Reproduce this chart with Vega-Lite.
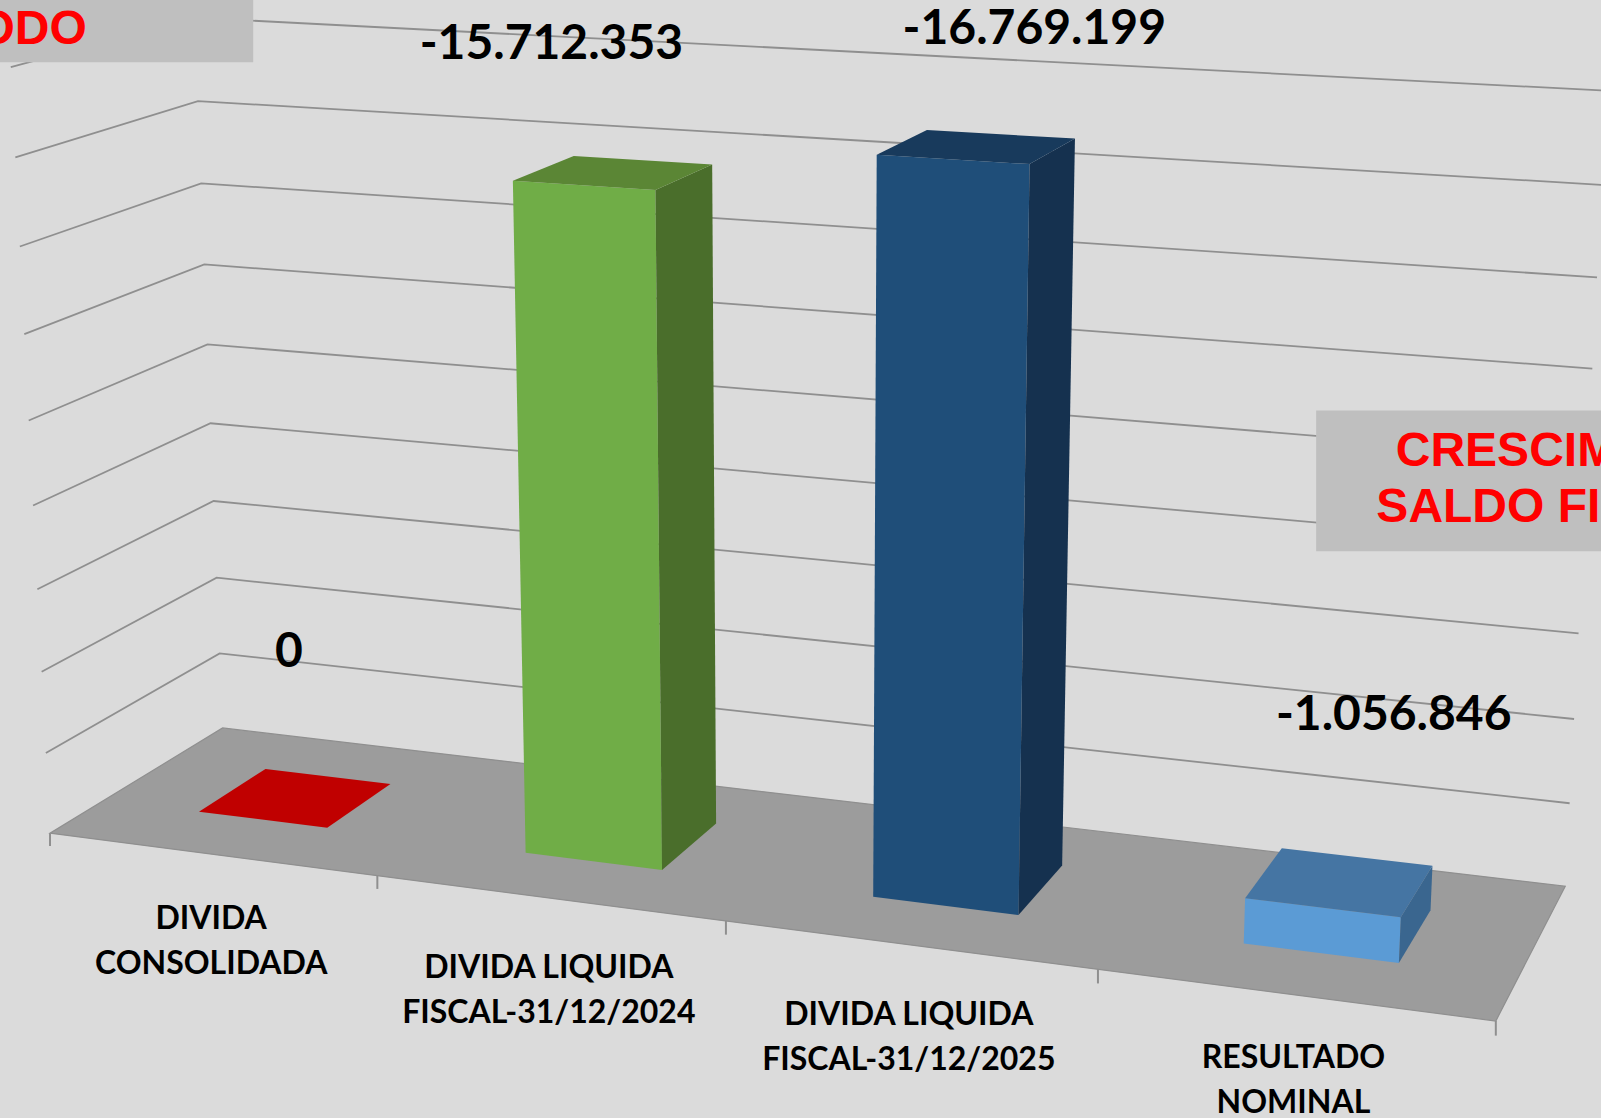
{
"$schema":"https://vega.github.io/schema/vega-lite/v6.json",
"width":1601,"height":1118,"padding":0,"autosize":{"type":"none"},
"background":"#dbdbdb",
"view":{"stroke":null},
"config":{"view":{"stroke":null}},
"datasets":{
"barras":[
{"ordem":0,"categoria":"DIVIDA\nCONSOLIDADA","valor":0},
{"ordem":1,"categoria":"DIVIDA LIQUIDA\nFISCAL-31/12/2024","valor":-15712353},
{"ordem":2,"categoria":"DIVIDA LIQUIDA\nFISCAL-31/12/2025","valor":-16769199},
{"ordem":3,"categoria":"RESULTADO\nNOMINAL","valor":-1056846}
],
"grade":[{"valor":-2000000},{"valor":-4000000},{"valor":-6000000},{"valor":-8000000},{"valor":-10000000},{"valor":-12000000},{"valor":-14000000},{"valor":-16000000},{"valor":-18000000}]
},
"encoding":{
"x":{"field":"px","type":"quantitative","axis":null,"scale":{"domain":[0,1568],"nice":false,"zero":false}},
"y":{"field":"py","type":"quantitative","axis":null,"scale":{"domain":[1095,0],"nice":false,"zero":false}}
},
"layer":[
{"data":{"name":"grade"},
"transform":[
{"calculate":"[{s:0,t:0,k:0},{s:0,t:1,k:1},{s:1,t:1,k:2}]","as":"c"},{"flatten":["c"]},
{"calculate":"-datum.valor/2000000","as":"v"},
{"calculate":"1-0.12209*datum.c.s+0.08312*datum.c.t","as":"w"},
{"calculate":"(1237.13*datum.c.s+187.12*datum.c.t+49-4.33*datum.v)/(datum.w-0.0055*datum.v)","as":"px"},
{"calculate":"(61.91*datum.c.s-43.74*datum.c.t+816-83.85*datum.v)/(datum.w-0.00732*datum.v)","as":"py"},
{"calculate":"datum.c.k","as":"k"}
],
"mark":{"type":"line","stroke":"#8f8f8f","strokeWidth":1.8,"clip":true},
"encoding":{"detail":{"field":"valor"},"order":{"field":"k","type":"quantitative"}}},
{"data":{"values":[{"parte":"piso"}]},
"transform":[
{"calculate":"[{s:0,t:0,k:0},{s:1,t:0,k:1},{s:1,t:1,k:2},{s:0,t:1,k:3}]","as":"c"},{"flatten":["c"]},
{"calculate":"1-0.12209*datum.c.s+0.08312*datum.c.t","as":"w"},
{"calculate":"(1237.13*datum.c.s+187.12*datum.c.t+49)/datum.w","as":"px"},
{"calculate":"(61.91*datum.c.s-43.74*datum.c.t+816)/datum.w","as":"py"},
{"calculate":"datum.c.k","as":"k"}
],
"mark":{"type":"line","interpolate":"linear-closed","fill":"#9c9c9c","stroke":"#8f8f8f","strokeWidth":1.2},
"encoding":{"order":{"field":"k","type":"quantitative"}}},
{"data":{"values":[{"d":0},{"d":0.25},{"d":0.5},{"d":0.75},{"d":1}]},
"transform":[
{"calculate":"[{v:0,k:0},{v:-0.15,k:1}]","as":"c"},{"flatten":["c"]},
{"calculate":"1-0.12209*datum.d","as":"w"},
{"calculate":"(1237.13*datum.d+49)/datum.w","as":"px"},
{"calculate":"(61.91*datum.d+816-83.85*datum.c.v)/datum.w","as":"py"},
{"calculate":"datum.c.k","as":"k"}
],
"mark":{"type":"line","stroke":"#8f8f8f","strokeWidth":2},
"encoding":{"detail":{"field":"d"},"order":{"field":"k","type":"quantitative"}}},
{"data":{"name":"barras"},
"transform":[
{"calculate":"[{f:'frente',k:0,ds:-1,t:0.3,up:0},{f:'frente',k:1,ds:1,t:0.3,up:0},{f:'frente',k:2,ds:1,t:0.3,up:1},{f:'frente',k:3,ds:-1,t:0.3,up:1},{f:'lado',k:0,ds:1,t:0.3,up:0},{f:'lado',k:1,ds:1,t:0.7,up:0},{f:'lado',k:2,ds:1,t:0.7,up:1},{f:'lado',k:3,ds:1,t:0.3,up:1},{f:'topo',k:0,ds:-1,t:0.3,up:1},{f:'topo',k:1,ds:1,t:0.3,up:1},{f:'topo',k:2,ds:1,t:0.7,up:1},{f:'topo',k:3,ds:-1,t:0.7,up:1}]","as":"c"},
{"flatten":["c"]},
{"calculate":"(datum.ordem+0.5)/4+datum.c.ds*0.05","as":"s"},
{"calculate":"datum.c.t","as":"t"},
{"calculate":"-datum.valor/2000000*datum.c.up","as":"v"},
{"calculate":"1-0.12209*datum.s+0.08312*datum.t","as":"w"},
{"calculate":"(1237.13*datum.s+187.12*datum.t+49-4.33*datum.v)/(datum.w-0.0055*datum.v)","as":"px"},
{"calculate":"(61.91*datum.s-43.74*datum.t+816-83.85*datum.v)/(datum.w-0.00732*datum.v)","as":"py"},
{"calculate":"datum.c.k","as":"k"},
{"calculate":"datum.ordem+'-'+datum.c.f","as":"face"}
],
"mark":{"type":"line","interpolate":"linear-closed","strokeWidth":0},
"encoding":{
"fill":{"field":"face","type":"nominal","legend":null,"scale":{
"domain":["0-frente","0-lado","0-topo","1-frente","1-lado","1-topo","2-frente","2-lado","2-topo","3-frente","3-lado","3-topo"],
"range":["#c00000","#c00000","#c00000","#70ad47","#4a6e2b","#5b8635","#1f4e79","#15314f","#183a5c","#5b9bd5","#3a668f","#4575a3"]}},
"order":{"field":"k","type":"quantitative"}}},
{"data":{"name":"barras"},
"transform":[
{"calculate":"[206.8,537.5,890.1,1266.8][datum.ordem]","as":"px"},
{"calculate":"[900,948,994,1036][datum.ordem]","as":"py"}
],
"mark":{"type":"text","font":"Lato","fontWeight":"bold","fontSize":32,"lineHeight":45,"lineBreak":"\n","align":"center","baseline":"middle","color":"#000000"},
"encoding":{"text":{"field":"categoria"}}},
{"data":{"name":"barras"},
"transform":[
{"calculate":"[283,540,1013,1365][datum.ordem]","as":"px"},
{"calculate":"[640,44,29,701][datum.ordem]","as":"py"},
{"calculate":"replace(replace(format(datum.valor,',d'),/,/g,'.'),'\u2212','-')","as":"rotulo"}
],
"mark":{"type":"text","font":"Lato","fontWeight":"bold","fontSize":48,"align":"center","baseline":"middle","color":"#000000"},
"encoding":{"text":{"field":"rotulo"}}},
{"data":{"values":[{"caixa":"a","px":0,"px2":248,"py":0,"py2":61},{"caixa":"b","px":1289,"px2":1568,"py":402,"py2":540}]},
"mark":{"type":"rect","fill":"#bfbfbf"},
"encoding":{"x2":{"field":"px2"},"y2":{"field":"py2"}}},
{"data":{"values":[{"t":"PERÍODO","px":85,"py":29,"a":"right"},{"t":"CRESCIMENTO","px":1367,"py":443,"a":"left"},{"t":"SALDO FISCAL","px":1348,"py":498,"a":"left"}]},
"mark":{"type":"text","font":"Liberation Sans","fontWeight":"bold","fontSize":48,"align":{"expr":"datum.a"},"baseline":"middle","color":"#ff0000","clip":true},
"encoding":{"text":{"field":"t"}}}
]
}
